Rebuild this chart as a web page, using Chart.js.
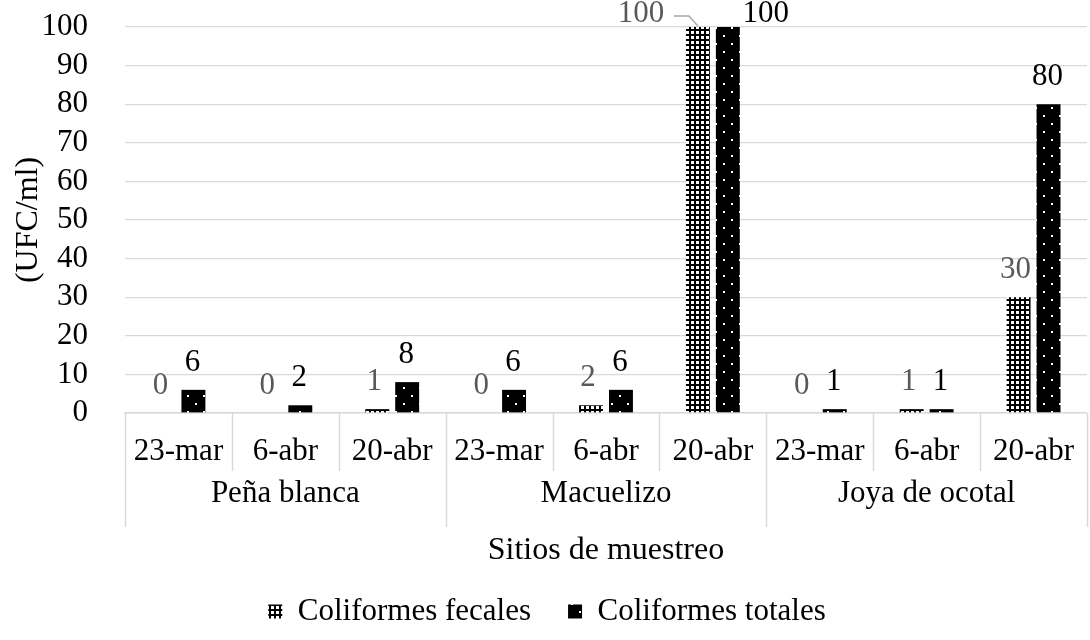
<!DOCTYPE html>
<html>
<head>
<meta charset="utf-8">
<script src="https://cdn.jsdelivr.net/npm/chart.js@4/dist/chart.umd.min.js"></script>
<style>
  html, body { margin: 0; padding: 0; background: #fff; overflow: hidden; }
  #wrap { width: 1094px; height: 640px; position: relative; }
</style>
</head>
<body>
<div id="wrap"><canvas id="c" width="1094" height="640"></canvas></div>
<script>
// Sampling dates (one per bar group) and the sites they belong to
const fechas = ['23-mar', '6-abr', '20-abr', '23-mar', '6-abr', '20-abr', '23-mar', '6-abr', '20-abr'];
const sitios = ['Peña blanca', 'Macuelizo', 'Joya de ocotal'];
const fechasPorSitio = 3;

// Colony counts (UFC/ml)
const fecales = [0, 0, 1, 0, 2, 100, 0, 1, 30];
const totales = [6, 2, 8, 6, 6, 100, 1, 1, 80];

// Value axis
const yMin = 0;
const yMax = 100;
const yPaso = 10;

const SERIF = "'Liberation Serif', 'Times New Roman', serif";
const GRIS = '#d9d9d9';
const TAM = 31;

// Fill patterns for the two series
function patron(size, dibujar) {
  const cv = document.createElement('canvas');
  cv.width = size; cv.height = size;
  const g = cv.getContext('2d');
  dibujar(g);
  return g.createPattern(cv, 'repeat');
}
const ctx = document.getElementById('c').getContext('2d');
const patronFecales = patron(5, g => {
  g.fillStyle = '#000'; g.fillRect(0, 0, 5, 5);
  g.fillStyle = '#fff'; g.fillRect(1, 1, 3, 3);
});
const patronTotales = patron(16, g => {
  g.fillStyle = '#000'; g.fillRect(0, 0, 16, 16);
  g.fillStyle = '#fff'; g.fillRect(3, 3, 2, 2); g.fillRect(11, 11, 2, 2);
});

// Label placement tweaks where the default spot (above the bar) collides
const ajustesEtiqueta = {
  '0:5': { dx: -57, dy: 14, guia: true },
  '1:5': { dx: 38, dy: 14 }
};

const etiquetasValor = {
  id: 'etiquetasValor',
  afterDatasetsDraw(chart) {
    const c = chart.ctx;
    c.save();
    c.font = TAM + 'px ' + SERIF;
    c.textAlign = 'center';
    c.textBaseline = 'middle';
    chart.data.datasets.forEach((ds, di) => {
      const meta = chart.getDatasetMeta(di);
      c.fillStyle = di === 0 ? '#595959' : '#000';
      meta.data.forEach((bar, i) => {
        const v = ds.data[i];
        const aj = ajustesEtiqueta[di + ':' + i];
        let x = bar.x + (di === 0 ? -3 : -1);
        let y = bar.y - 27;
        if (aj) { x = bar.x + aj.dx; y = bar.y - 27 + aj.dy; }
        c.fillText(String(v), x, y);
        if (aj && aj.guia) {
          c.strokeStyle = '#a6a6a6';
          c.lineWidth = 1.3;
          c.beginPath();
          c.moveTo(x + 33, y + 2);
          c.lineTo(x + 48, y + 2);
          c.lineTo(bar.x, bar.y - 1);
          c.stroke();
        }
      });
    });
    c.restore();
  }
};

// Two-level category axis: date separators, site separators and site names
const ejeSitios = {
  id: 'ejeSitios',
  afterDraw(chart) {
    const x = chart.scales.x;
    const c = chart.ctx;
    const n = fechas.length;
    const ancho = (x.right - x.left) / n;
    const y0 = chart.chartArea.bottom;
    c.save();
    c.strokeStyle = GRIS;
    c.lineWidth = 1.5;
    for (let k = 0; k <= n; k++) {
      const px = k === 0 ? x.getPixelForValue(0) - ancho / 2
                         : (k === n ? x.getPixelForValue(n - 1) + ancho / 2
                                    : (x.getPixelForValue(k - 1) + x.getPixelForValue(k)) / 2);
      const grupo = k % fechasPorSitio === 0;
      c.beginPath();
      c.moveTo(Math.round(px) + 0.5, y0);
      c.lineTo(Math.round(px) + 0.5, y0 + (grupo ? 114 : 58));
      c.stroke();
    }
    c.fillStyle = '#000';
    c.font = TAM + 'px ' + SERIF;
    c.textAlign = 'center';
    c.textBaseline = 'middle';
    sitios.forEach((s, g) => {
      const a = x.getPixelForValue(g * fechasPorSitio);
      const b = x.getPixelForValue(g * fechasPorSitio + fechasPorSitio - 1);
      c.fillText(s, (a + b) / 2, y0 + 81);
    });
    c.restore();
  }
};

new Chart(ctx, {
  type: 'bar',
  data: {
    labels: fechas,
    datasets: [
      { label: 'Coliformes fecales', data: fecales, backgroundColor: patronFecales, borderWidth: 0,
        categoryPercentage: 0.56, barPercentage: 0.8 },
      { label: 'Coliformes totales', data: totales, backgroundColor: patronTotales, borderWidth: 0,
        categoryPercentage: 0.56, barPercentage: 0.8 }
    ]
  },
  options: {
    responsive: false,
    animation: false,
    devicePixelRatio: 1,
    layout: { padding: { top: 27, right: 0, bottom: 3, left: 0 } },
    plugins: {
      tooltip: { enabled: false },
      legend: {
        position: 'bottom',
        labels: {
          font: { family: SERIF, size: TAM },
          color: '#000',
          boxWidth: 14,
          boxHeight: 14,
          padding: 37
        }
      }
    },
    scales: {
      x: {
        grid: { display: false, drawTicks: false },
        border: { display: true, color: GRIS, width: 1.5 },
        ticks: { font: { family: SERIF, size: TAM }, color: '#000', padding: 20, maxRotation: 0, autoSkip: false },
        title: {
          display: true, text: 'Sitios de muestreo', color: '#000',
          font: { family: SERIF, size: 32, lineHeight: 0.5 },
          padding: { top: 0, bottom: 0 }
        },
        afterFit(s) { s.height = 146; }
      },
      y: {
        min: yMin, max: yMax,
        grid: { color: GRIS, lineWidth: 1.3, drawTicks: false },
        border: { display: false },
        ticks: { stepSize: yPaso, autoSkip: false, font: { family: SERIF, size: TAM }, color: '#000', padding: 37 },
        title: {
          display: true, text: '(UFC/ml)', color: '#000',
          font: { family: SERIF, size: 32, lineHeight: 1 },
          padding: { top: 13, bottom: 0 }
        },
        afterFit(s) {
          s.width = 125;
          s.paddingTop = 19;
          s.paddingBottom = 19;
        }
      }
    }
  },
  plugins: [etiquetasValor, ejeSitios]
});
</script>
</body>
</html>
